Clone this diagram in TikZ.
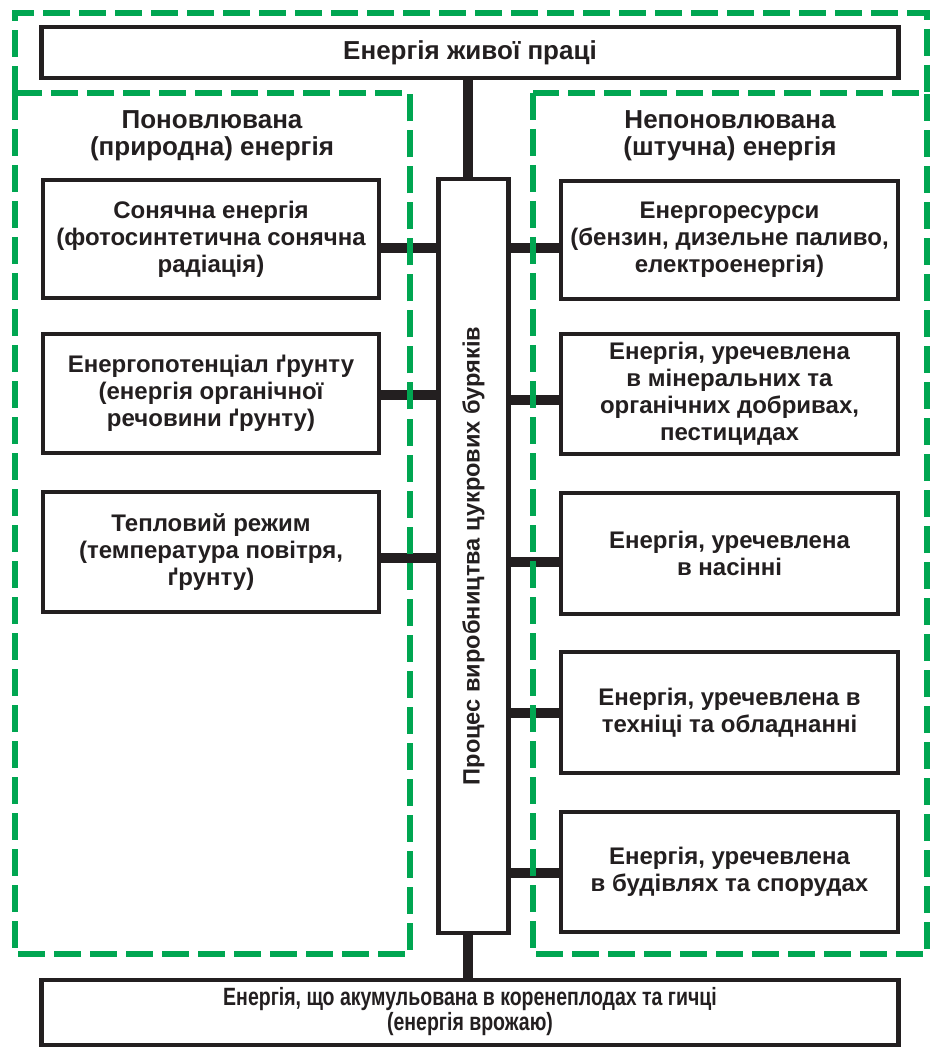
\documentclass[tikz,border=0pt]{standalone}
\usepackage{fontspec}
\setmainfont{Liberation Sans}
\definecolor{ZoneGreen}{RGB}{0,166,81}
\definecolor{BoxLine}{RGB}{35,31,32}
\tikzset{
  box/.style={draw=BoxLine, line width=2.4pt, fill=white, align=center,
    inner sep=0pt, text=BoxLine, font=\bfseries\fontsize{12}{13.5}\selectfont},
  boxsize/.style 2 args={minimum width=#1*0.5pt, minimum height=#2*0.5pt},
  head/.style={align=center, text=BoxLine, font=\bfseries\fontsize{13}{13.5}\selectfont},
  link/.style={draw=BoxLine, line width=4.8pt},
  zone/.style={draw=ZoneGreen, line width=3pt, dash pattern=on 13.5pt off 4.5pt},
}

\begin{document}
\begin{tikzpicture}[x=0.5pt, y=-0.5pt]
\useasboundingbox (0,0) rectangle (938,1047);

% top and bottom
\node[box, boxsize={857}{51}, font=\bfseries\fontsize{13}{13.5}\selectfont] (labour) at (470,52.5) {Енергія живої праці};
\node[box, boxsize={857}{65}] (harvest) at (470,1012.5)
  {\scalebox{0.78}[1]{\fontsize{12.5}{12}\selectfont\begin{tabular}{@{}c@{}}Енергія, що акумульована в коренеплодах та гичці\\(енергія врожаю)\end{tabular}}};

% process
\node[box, boxsize={70}{754}] (process) at (473.5,556) {};
\node[head, rotate=90, font=\bfseries\fontsize{11.8}{13.5}\selectfont] (processtext) at (process.center) {Процес виробництва цукрових буряків};
\coordinate (spine) at (468,0);

% renewable
\node[head] (renew) at (212,136) {Поновлювана\\(природна) енергія};
\node[box, boxsize={336}{118}] (sun) at (211,239) {Сонячна енергія\\(фотосинтетична сонячна\\радіація)};
\node[box, boxsize={336}{119}] (soil) at (211,393.5) {Енергопотенціал ґрунту\\(енергія органічної\\речовини ґрунту)};
\node[box, boxsize={336}{120}] (heat) at (211,552) {Тепловий режим\\(температура повітря,\\ґрунту)};

% non-renewable
\node[head] (nonrenew) at (730,136) {Непоновлювана\\(штучна) енергія};
\node[box, boxsize={337}{118}] (fuel) at (729.5,240) {Енергоресурси\\(бензин, дизельне паливо,\\електроенергія)};
\node[box, boxsize={337}{120}] (fert) at (729.5,394) {Енергія, уречевлена\\в мінеральних та\\органічних добривах,\\пестицидах};
\node[box, boxsize={337}{121}] (seed) at (729.5,553.5) {Енергія, уречевлена\\в насінні};
\node[box, boxsize={337}{121}] (tech) at (729.5,712.5) {Енергія, уречевлена в\\техніці та обладнанні};
\node[box, boxsize={337}{120}] (build) at (729.5,872) {Енергія, уречевлена\\в будівлях та спорудах};

% connectors
\draw[link] (labour.south -| spine) -- (process.north -| spine);
\draw[link] (process.south -| spine) -- (harvest.north -| spine);
\foreach \b/\d in {sun/9, soil/1.5, heat/6}
  \draw[link] ([yshift=-\d*0.5pt]\b.east) -- ([yshift=-\d*0.5pt]\b.east -| process.west);
\foreach \b/\d in {fuel/8, fert/6, seed/8.5, tech/0.5, build/1}
  \draw[link] ([yshift=-\d*0.5pt]\b.west) -- ([yshift=-\d*0.5pt]\b.west -| process.east);

% zones
\draw[zone] (15,93) -- (15,13) -- (927,13) -- (927,93);
\draw[zone] (15,93) rectangle (409.5,954);
\draw[zone] (533,93) rectangle (927,954);

\end{tikzpicture}
\end{document}
